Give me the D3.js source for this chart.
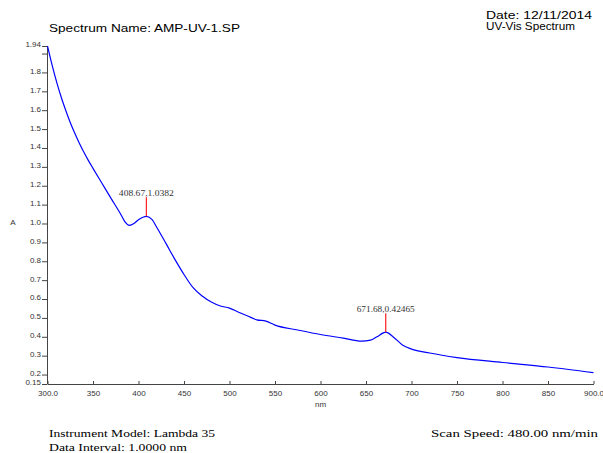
<!DOCTYPE html>
<html><head><meta charset="utf-8">
<script src="https://cdn.jsdelivr.net/npm/d3@7"></script>
<style>body{margin:0;background:#fff}svg{display:block}</style>
</head><body><svg id="c" width="603" height="453"></svg>
<script>
const wavelengths = [300,305,310,315,320,325,330,335,340,345,350,360,370,380,385,390,395,400,408.67,415,420,430,440,450,460,470,480,490,500,510,520,530,540,550,575,600,625,645,655,662,671.68,680,690,700,720,750,800,850,900];
const absorbance = [1.94,1.84,1.75,1.67,1.60,1.535,1.478,1.425,1.377,1.333,1.292,1.212,1.132,1.053,1.01,0.99,1.00,1.02,1.0382,1.02,0.98,0.896,0.81,0.73,0.66,0.616,0.584,0.563,0.552,0.53,0.51,0.49,0.483,0.462,0.436,0.412,0.393,0.377,0.382,0.40,0.42465,0.399,0.357,0.335,0.314,0.29,0.264,0.24,0.21];
const peakNm = [408.67, 671.68];
const peakAbs = [1.0382, 0.42465];
const peakLabels = ["408.67,1.0382", "671.68,0.42465"];
const xTicks = [300,350,400,450,500,550,600,650,700,750,800,850,900];
const xTickLabels = ["300.0","350","400","450","500","550","600","650","700","750","800","850","900.0"];
const yTicks = [0.15,0.2,0.3,0.4,0.5,0.6,0.7,0.8,0.9,1.0,1.1,1.2,1.3,1.4,1.5,1.6,1.7,1.8,1.9,1.94];
const yTickLabels = ["0.15","0.2","0.3","0.4","0.5","0.6","0.7","0.8","0.9","1.0","1.1","1.2","1.3","1.4","1.5","1.6","1.7","1.8","","1.94"];

const svg = d3.select("#c");
const x = d3.scaleLinear().domain([300, 900]).range([47.5, 593.5]);
const y = d3.scaleLinear().domain([0.15, 1.94]).range([384, 46]);

function txt(t, xx, yy, len, opts) {
  const e = svg.append("text").attr("x", xx).attr("y", yy).text(t)
    .attr("font-family", opts.family || "Liberation Sans, Arial, sans-serif")
    .attr("font-size", opts.size || 10).attr("fill", opts.fill || "#000");
  if (len) e.attr("textLength", len).attr("lengthAdjust", "spacingAndGlyphs");
  if (opts.anchor) e.attr("text-anchor", opts.anchor);
  return e;
}
txt("Spectrum Name: AMP-UV-1.SP", 49, 32, 191, {size: 10.5});
txt("Date: 12/11/2014", 486, 19, 106, {size: 10.5});
txt("UV-Vis Spectrum", 486, 30, 89, {size: 10.5});
const serif = "Liberation Serif, Times New Roman, serif";
txt("Instrument Model: Lambda 35", 49, 437, 166, {family: serif, size: 11});
txt("Data Interval: 1.0000 nm", 49, 451, 138, {family: serif, size: 11});
txt("Scan Speed: 480.00 nm/min", 431, 437, 167, {family: serif, size: 11});

const yAxis = svg.append("g").attr("transform", "translate(47,0)")
  .call(d3.axisLeft(y).tickValues(yTicks).tickFormat((d, i) => yTickLabels[i]).tickSize(5).tickSizeOuter(0).tickPadding(1));
const xAxis = svg.append("g").attr("transform", "translate(0,384)")
  .call(d3.axisBottom(x).tickValues(xTicks).tickFormat((d, i) => xTickLabels[i]).tickSize(-3).tickSizeOuter(0).tickPadding(6));
[yAxis, xAxis].forEach(g => {
  g.selectAll("path").attr("stroke", "#444");
  g.selectAll("line").attr("stroke", "#444");
  g.selectAll("text").attr("fill", "#333").attr("font-family", "Liberation Sans, Arial, sans-serif").attr("font-size", 8);
});
yAxis.selectAll("text").attr("dy", "0.12em");
xAxis.selectAll("text").attr("dy", "0.71em");

txt("A", 13, 225, null, {size: 8, fill: "#333", anchor: "middle"});
txt("nm", 320.5, 407, null, {size: 8, fill: "#333", anchor: "middle"});

const data = wavelengths.map((w, i) => [w, absorbance[i]]);
svg.append("path").datum(data)
  .attr("fill", "none").attr("stroke", "#0000ff").attr("stroke-width", 1.2)
  .attr("d", d3.line().x(d => x(d[0])).y(d => y(d[1])).curve(d3.curveMonotoneX));

const labelLens = [55, 58];
peakNm.forEach((p, i) => {
  const px = x(p), py = y(peakAbs[i]);
  svg.append("line").attr("x1", px).attr("x2", px).attr("y1", py).attr("y2", py - 19)
    .attr("stroke", "#ff2020").attr("stroke-width", 1.2);
  svg.append("text").attr("x", px).attr("y", py - 20).attr("text-anchor", "middle")
    .attr("font-family", serif).attr("font-size", 8)
    .attr("textLength", labelLens[i]).attr("lengthAdjust", "spacingAndGlyphs")
    .attr("fill", "#333").text(peakLabels[i]);
});
</script></body></html>
